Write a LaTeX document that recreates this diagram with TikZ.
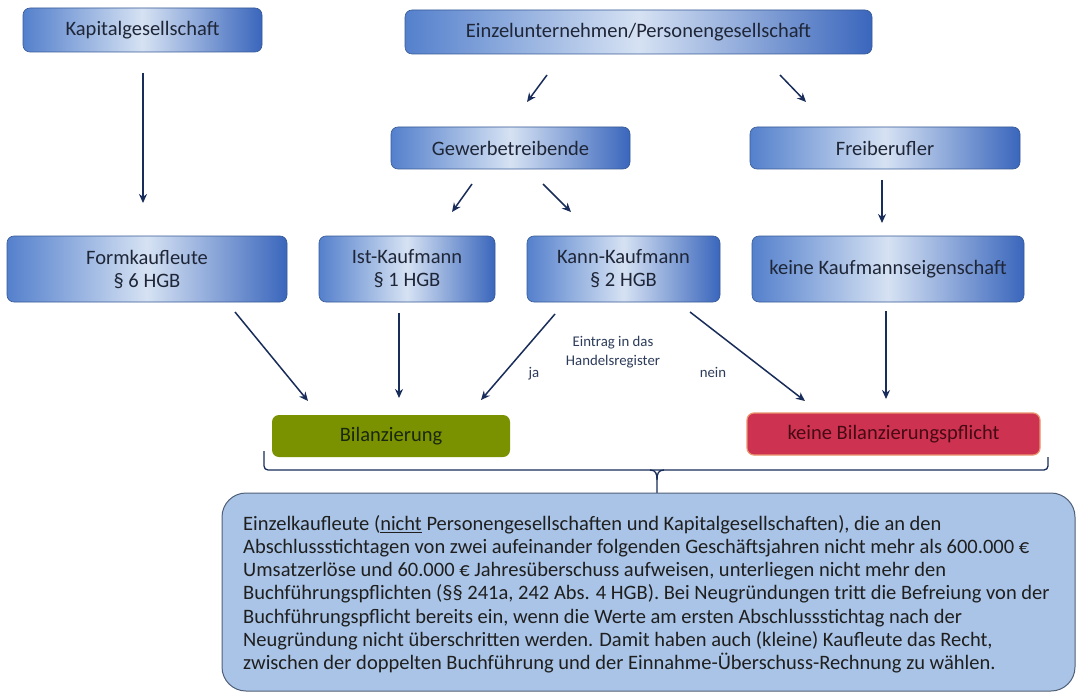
\documentclass[tikz,border=0pt]{standalone}
\usepackage{fontspec}
\setmainfont{Carlito}
\usetikzlibrary{arrows.meta,calc}
\definecolor{bxL}{RGB}{84,128,204}
\definecolor{bxM}{RGB}{214,226,243}
\definecolor{bxR}{RGB}{58,102,188}
\definecolor{bxB}{RGB}{55,90,150}
\definecolor{boxtxt}{RGB}{30,38,55}
\definecolor{arrc}{RGB}{25,45,90}
\definecolor{greenbox}{RGB}{122,146,0}
\definecolor{greentxt}{RGB}{25,40,15}
\definecolor{redbox}{RGB}{205,50,80}
\definecolor{redtxt}{RGB}{70,10,20}
\definecolor{rededge}{RGB}{235,150,110}
\definecolor{bigfill}{RGB}{169,196,230}
\definecolor{bigedge}{RGB}{80,95,120}
\definecolor{lbltxt}{RGB}{45,60,90}
\begin{document}
\begin{tikzpicture}[x=1pt,y=-1pt,
  bluebox/.style={rounded corners=7pt, draw=bxB, line width=0.6pt,
    left color=bxL, right color=bxR, middle color=bxM,
    font=\fontsize{20.5}{23}\selectfont, text=boxtxt, align=center, inner sep=0pt},
  arr/.style={draw=arrc, line width=1.5pt, -{Stealth[length=9pt,width=8pt]}},
  lbl/.style={font=\fontsize{14.8}{18.5}\selectfont, text=lbltxt, align=center, inner sep=0pt}
]
\useasboundingbox (0,0) rectangle (1078,695);
\fill[white] (0,0) rectangle (1078,695);

% top row
\node[bluebox, minimum width=239pt, minimum height=44pt] (kap) at (142.5,30) {Kapitalgesellschaft};
\node[bluebox, minimum width=467pt, minimum height=44pt] (ein) at (638.5,32) {Einzelunternehmen/Personengesellschaft};
% second row
\node[bluebox, minimum width=239pt, minimum height=42pt] (gew) at (510.5,148) {Gewerbetreibende};
\node[bluebox, minimum width=270pt, minimum height=42pt] (fre) at (885,148) {Freiberufler};
% third row
\node[bluebox, minimum width=280pt, minimum height=66pt] (form) at (147,269) {Formkaufleute\\§ 6 HGB};
\node[bluebox, minimum width=176pt, minimum height=66pt] (ist) at (407,269) {Ist-Kaufmann\\§ 1 HGB};
\node[bluebox, minimum width=193pt, minimum height=66pt] (kann) at (623.5,269) {Kann-Kaufmann\\§ 2 HGB};
\node[bluebox, minimum width=272pt, minimum height=66pt] (kk) at (888,269) {keine Kaufmannseigenschaft};
% result boxes
\node[rounded corners=7pt, fill=greenbox, minimum width=238pt, minimum height=42pt, inner sep=0pt,
  font=\fontsize{20.5}{23}\selectfont, text=greentxt] (bil) at (391,436) {Bilanzierung};
\node[rounded corners=7pt, fill=redbox, draw=rededge, line width=1.2pt, minimum width=293pt, minimum height=42pt, inner sep=0pt,
  font=\fontsize{20.5}{23}\selectfont, text=redtxt] (kb) at (893.5,434) {keine Bilanzierungspflicht};

% arrows (free-floating, between named coordinates)
\coordinate (a1s) at (143,73);  \coordinate (a1e) at (143,203);
\coordinate (a2s) at (547,75);  \coordinate (a2e) at (527,102);
\coordinate (a3s) at (780,75);  \coordinate (a3e) at (806,102);
\coordinate (a4s) at (472,184); \coordinate (a4e) at (452,212);
\coordinate (a5s) at (543,184); \coordinate (a5e) at (571,212);
\coordinate (a6s) at (882,180); \coordinate (a6e) at (882,223);
\coordinate (a7s) at (235,312); \coordinate (a7e) at (308,401);
\coordinate (a8s) at (399,313); \coordinate (a8e) at (399,398);
\coordinate (a9s) at (555,314); \coordinate (a9e) at (481,400);
\coordinate (a10s) at (690,312); \coordinate (a10e) at (805,401);
\coordinate (a11s) at (886,311); \coordinate (a11e) at (886,399);
\foreach \i in {1,...,11} {\draw[arr] (a\i s) -- (a\i e);}

% labels
\node[lbl] (eintrag) at (613,352) {Eintrag in das\\Handelsregister};
\node[lbl] (ja) at (534,374) {ja};
\node[lbl] (nein) at (713,372) {nein};

% brace
\coordinate (brL) at (264,451);
\coordinate (brR) at (1048,457);
\coordinate (brT) at (657,493);
\draw[arrc, line width=1.3pt, rounded corners=4pt]
  (brL) -- (264,470) -- (657,470) -- (1048,470) -- (brR);
\draw[arrc, line width=1.3pt] (650,470) .. controls (656,470) and (657,474) .. (657,480) -- (brT);
\draw[arrc, line width=1.3pt] (664,470) .. controls (658,470) and (657,474) .. (657,480);

% big box
\draw[fill=bigfill, draw=bigedge, line width=1pt, rounded corners=24pt] (222,493) rectangle (1075,691);
\node[anchor=north west, align=left, inner sep=0pt, font=\fontsize{20.5}{23.2}\selectfont, text=black!88] (txt) at (243,515)
{Einzelkaufleute (\underline{nicht} Personengesellschaften und Kapitalgesellschaften), die an den\\
Abschlussstichtagen von zwei aufeinander folgenden Geschäftsjahren nicht mehr als 600.000 €\\
Umsatzerlöse und 60.000 € Jahresüberschuss aufweisen, unterliegen nicht mehr den\\
Buchführungspflichten (§§ 241a, 242 Abs. 4 HGB). Bei Neugründungen tritt die Befreiung von der\\
Buchführungspflicht bereits ein, wenn die Werte am ersten Abschlussstichtag nach der\\
Neugründung nicht überschritten werden. Damit haben auch (kleine) Kaufleute das Recht,\\
zwischen der doppelten Buchführung und der Einnahme-Überschuss-Rechnung zu wählen.};
\end{tikzpicture}
\end{document}
